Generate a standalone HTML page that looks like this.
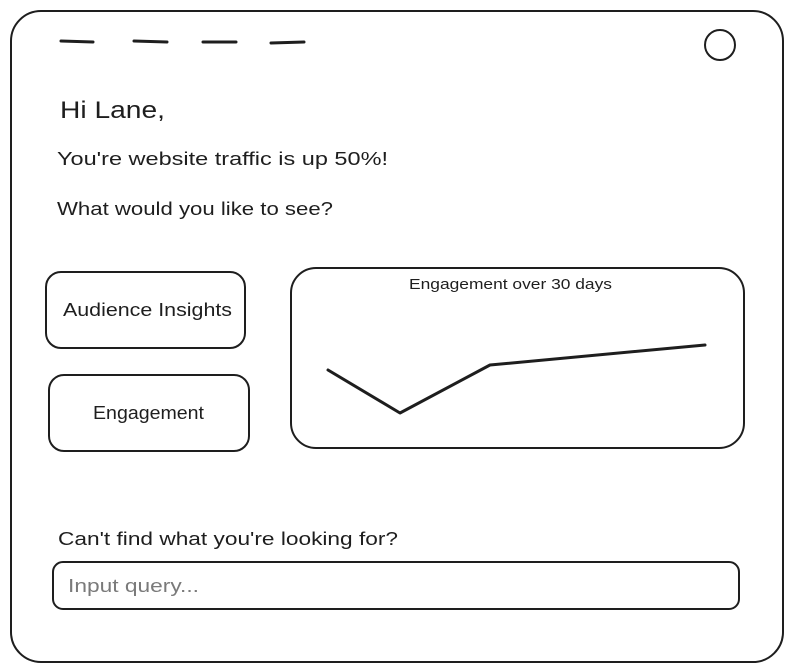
<!DOCTYPE html>
<html><head><meta charset="utf-8"><style>
html,body{margin:0;padding:0;background:#fff;}
svg{display:block;}
text{font-family:"Liberation Sans",sans-serif;fill:#1e1e1e;}
</style></head><body>
<svg width="792" height="672" viewBox="0 0 792 672" xmlns="http://www.w3.org/2000/svg">
<rect x="11" y="11" width="772" height="651" rx="30" fill="none" stroke="#1e1e1e" stroke-width="2"/>
<g stroke="#1e1e1e" stroke-width="3" stroke-linecap="round">
<line x1="61" y1="41" x2="93" y2="42"/>
<line x1="134" y1="41" x2="167" y2="42"/>
<line x1="203" y1="42" x2="236" y2="42"/>
<line x1="271" y1="43" x2="304" y2="42"/>
</g>
<circle cx="720" cy="45" r="15" fill="none" stroke="#1e1e1e" stroke-width="2"/>
<text x="60" y="118" font-size="24" textLength="105" lengthAdjust="spacingAndGlyphs">Hi Lane,</text>
<text x="57" y="165" font-size="18" textLength="331" lengthAdjust="spacingAndGlyphs">You're website traffic is up 50%!</text>
<text x="57" y="215" font-size="18" textLength="276" lengthAdjust="spacingAndGlyphs">What would you like to see?</text>
<rect x="46" y="272" width="199" height="76" rx="15" fill="none" stroke="#1e1e1e" stroke-width="2"/>
<text x="63" y="316" font-size="18" textLength="169" lengthAdjust="spacingAndGlyphs">Audience Insights</text>
<rect x="49" y="375" width="200" height="76" rx="15" fill="none" stroke="#1e1e1e" stroke-width="2"/>
<text x="93" y="419" font-size="18" textLength="111" lengthAdjust="spacingAndGlyphs">Engagement</text>
<rect x="291" y="268" width="453" height="180" rx="25" fill="none" stroke="#1e1e1e" stroke-width="2"/>
<text x="409" y="289" font-size="15" textLength="203" lengthAdjust="spacingAndGlyphs">Engagement over 30 days</text>
<polyline points="328,370 400,413 490,365 705,345" fill="none" stroke="#1e1e1e" stroke-width="3" stroke-linejoin="round" stroke-linecap="round"/>
<text x="58" y="545" font-size="18" textLength="340" lengthAdjust="spacingAndGlyphs">Can't find what you're looking for?</text>
<rect x="53" y="562" width="686" height="47" rx="10" fill="none" stroke="#1e1e1e" stroke-width="2"/>
<text x="68" y="592" font-size="18" textLength="131" lengthAdjust="spacingAndGlyphs" style="fill:#7a7a7a">Input query...</text>
</svg>
</body></html>
